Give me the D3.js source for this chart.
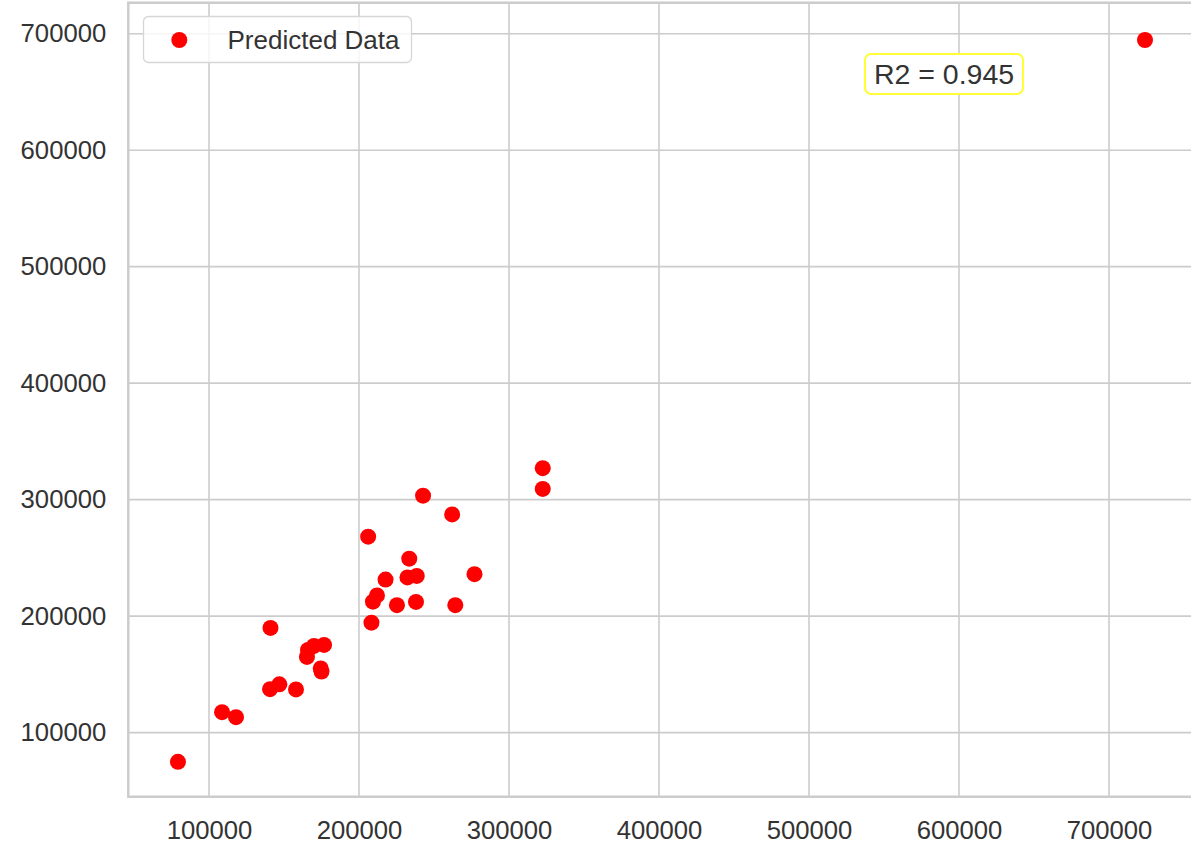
<!DOCTYPE html>
<html>
<head>
<meta charset="utf-8">
<script src="https://cdn.jsdelivr.net/npm/d3@7"></script>
<style>
  body { margin: 0; background: #fff; }
  svg { display: block; font-family: "Liberation Sans", Arial, sans-serif; }
  .tick text { fill: #333333; }
</style>
</head>
<body>
<div id="main"></div>
<script>
// actual price (x) vs predicted price (y)
const actualValues = [322500, 322500, 242700, 262100, 206100, 233500, 217700, 232300, 238500, 277000,
  212000, 209300, 225300, 238000, 264200, 208300, 141000, 165300, 166000, 170000,
  176700, 174500, 175000, 140700, 146900, 158000, 108700, 118000, 79300, 724000]
const predictedValues = [327000, 309200, 303400, 287300, 268200, 249300, 231400, 233200, 234500, 236000,
  217800, 212400, 209400, 212200, 209400, 194400, 189900, 165000, 171000, 174400,
  175300, 155100, 152400, 137300, 141500, 137100, 117600, 113300, 74900, 694600]
const xTicks = [100000, 200000, 300000, 400000, 500000, 600000, 700000]
const yTicks = [100000, 200000, 300000, 400000, 500000, 600000, 700000]
const legendLabel = "Predicted Data"
const r2Label = "R2 = 0.945"

let width = 1191
let height = 847
let plotLeft = 128.3, plotTop = 2.7, plotBottom = 796.7, plotRight = 1194.5

let svg = d3.select("#main")
            .append("svg")
            .attr("width", width)
            .attr("height", height)

svg.append("rect").attr("width", width).attr("height", height).attr("fill", "#fff")

const xScale = d3.scaleLinear().domain([46200, 757000]).range([plotLeft, plotRight])
const yScale = d3.scaleLinear().domain([45000, 726600]).range([plotBottom, plotTop])

// grid
let grid = svg.append("g")
grid.selectAll(".gx")
    .data(xTicks)
    .enter()
    .append("line")
    .attr("x1", d => xScale(d)).attr("x2", d => xScale(d))
    .attr("y1", plotTop).attr("y2", plotBottom)
    .attr("stroke", "#cccccc").attr("stroke-width", 1.6)
grid.selectAll(".gy")
    .data(yTicks)
    .enter()
    .append("line")
    .attr("x1", plotLeft).attr("x2", plotRight)
    .attr("y1", d => yScale(d)).attr("y2", d => yScale(d))
    .attr("stroke", "#cccccc").attr("stroke-width", 1.6)

// axes (labels only, seaborn whitegrid style)
let xAxis = d3.axisBottom(xScale).tickValues(xTicks).tickSize(0).tickPadding(24).tickFormat(d3.format("d"))
svg.append("g")
   .attr("transform", `translate(0, ${plotBottom})`)
   .call(xAxis)
   .call(g => g.select(".domain").remove())
   .selectAll("text")
   .style("font-size", "25.7px")

let yAxis = d3.axisLeft(yScale).tickValues(yTicks).tickSize(0).tickPadding(22).tickFormat(d3.format("d"))
svg.append("g")
   .attr("transform", `translate(${plotLeft}, 0)`)
   .call(yAxis)
   .call(g => g.select(".domain").remove())
   .selectAll("text")
   .style("font-size", "25.7px")

// spines
svg.append("path")
   .attr("d", `M${plotRight},${plotTop}H${plotLeft}V${plotBottom}H${plotRight}`)
   .attr("fill", "none")
   .attr("stroke", "#cccccc")
   .attr("stroke-width", 2.5)

// points
svg.append("g")
   .selectAll("circle")
   .data(actualValues)
   .enter()
   .append("circle")
   .attr("cx", d => xScale(d))
   .attr("cy", (d, i) => yScale(predictedValues[i]))
   .attr("r", 8)
   .attr("fill", "#ff0000")

// legend
let legend = svg.append("g")
legend.append("rect")
      .attr("x", 143.5).attr("y", 16.5)
      .attr("width", 268).attr("height", 46)
      .attr("rx", 5)
      .attr("fill", "#fff").attr("fill-opacity", 0.8)
      .attr("stroke", "#d6d6d6").attr("stroke-width", 1.3)
legend.append("circle")
      .attr("cx", 179.3).attr("cy", 40)
      .attr("r", 8)
      .attr("fill", "#ff0000")
legend.append("text")
      .attr("x", 227.5).attr("y", 39.5)
      .attr("dy", "0.35em")
      .style("font-size", "26px")
      .attr("fill", "#333333")
      .text(legendLabel)

// r2 annotation
let ann = svg.append("g")
ann.append("rect")
   .attr("x", 865).attr("y", 54)
   .attr("width", 158).attr("height", 40)
   .attr("rx", 6)
   .attr("fill", "#fff")
   .attr("stroke", "#ffff33").attr("stroke-width", 2)
ann.append("text")
   .attr("x", 944).attr("y", 74)
   .attr("dy", "0.35em")
   .attr("text-anchor", "middle")
   .style("font-size", "28.5px")
   .attr("fill", "#333333")
   .text(r2Label)
</script>
</body>
</html>
